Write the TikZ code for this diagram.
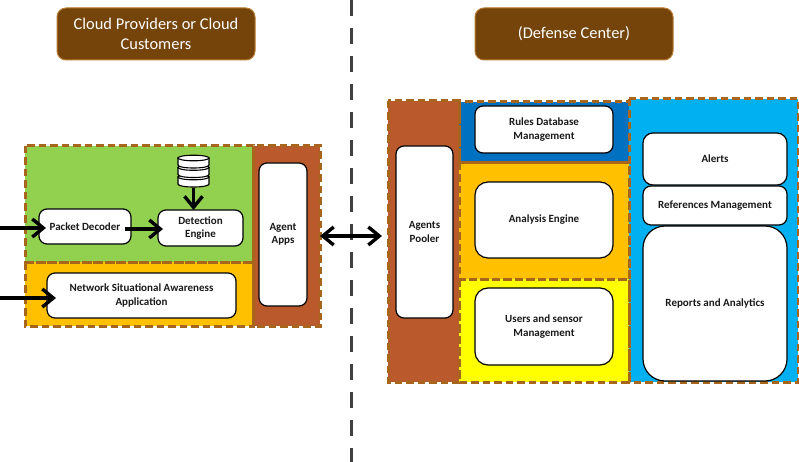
\documentclass[tikz,border=0pt]{standalone}
\usepackage{fontspec}
\setmainfont{Carlito}
\usetikzlibrary{arrows.meta}
\definecolor{dashc}{HTML}{A8661C}
\definecolor{brownr}{HTML}{BA5A2C}
\definecolor{greenr}{HTML}{92D050}
\definecolor{oranger}{HTML}{FFC000}
\definecolor{yellowr}{HTML}{FFFF00}
\definecolor{darkb}{HTML}{0070C0}
\definecolor{lightb}{HTML}{00B0F0}
\definecolor{headc}{HTML}{74440A}
\definecolor{headb}{HTML}{B87A30}
\definecolor{divc}{HTML}{404040}
\tikzset{
  region/.style={inner sep=0pt,outer sep=0pt},
  edge line/.style={draw=dashc,line width=3pt,dash pattern=on 7.5pt off 4pt},
  card/.style={draw=black,line width=1.2pt,fill=white,rounded corners=#1,inner sep=0pt,outer sep=0pt,align=center,font=\fontsize{11}{13.4}\selectfont\bfseries,text=black!90,execute at begin node={\vspace*{2pt}}},
  card/.default=8pt,
  head/.style={draw=headb,line width=1pt,fill=headc,rounded corners=9pt,inner sep=0pt,align=center,text=white,font=\fontsize{16.4}{20}\selectfont,execute at begin node={\vspace*{2pt}}},
  flow/.style={line width=3.4pt,-{Straight Barb[length=11pt,width=18pt,line width=3.4pt]}},
  flowboth/.style={line width=3.4pt,{Straight Barb[length=11pt,width=18pt,line width=3.4pt]}-{Straight Barb[length=11pt,width=18pt,line width=3.4pt]}},
  divider/.style={draw=divc,line width=3pt,dash pattern=on 16pt off 12pt},
  disk/.style={draw=black,line width=1.1pt,fill=white}
}
\newcommand{\bx}[7]{\node[#6,minimum width={(#4-#2)*1pt},minimum height={(#5-#3)*1pt}] (#1) at ({(#2+#4)/2},{(#3+#5)/2}) {#7};}
\newcommand{\outl}[1]{\draw[edge line] (#1.north west) rectangle (#1.south east);}
\newcommand{\diskat}[1]{%
  \path[disk] (178,#1) -- (178,#1+7) .. controls (178,#1+11) and (209,#1+11) .. (209,#1+7) -- (209,#1) -- cycle;
  \path[disk] (193.5,#1) ellipse [x radius=15.5,y radius=2.8];}
\begin{document}
\begin{tikzpicture}[x=1pt,y=-1pt]
\useasboundingbox (0,0) rectangle (799,462);
\fill[white] (0,0) rectangle (799,462);
\coordinate (divtop) at (351,0);
\coordinate (divbot) at (351,462);
\draw[divider] (divtop) -- (divbot);
\bx{headL}{57}{8}{255}{60}{head}{Cloud Providers or Cloud\\Customers}
\bx{headR}{475}{8}{673}{60}{head}{(Defense Center)}
% left regions
\bx{rgreen}{25}{146}{253}{262}{region,fill=greenr}{}
\bx{rorange}{25}{262}{253}{326}{region,fill=oranger}{}
\bx{rbrown}{253}{146}{320}{326}{region,fill=brownr}{}
\outl{rgreen}\outl{rorange}\outl{rbrown}
\bx{packet}{39}{209}{131}{244}{card}{Packet Decoder}
\bx{detect}{158}{210}{243}{246}{card}{Detection\\Engine}
\bx{nsa}{47}{273}{236}{318}{card}{Network Situational Awareness\\Application}
\bx{apps}{259}{163}{307}{306}{card}{Agent\\Apps}
% database
\diskat{177}
\diskat{167.5}
\diskat{158}
\coordinate (dbbot) at (193.5,188);
% right regions
\bx{rpool}{388}{101}{459}{382}{region,fill=brownr}{}
\bx{rlight}{629}{99}{798}{382}{region,fill=lightb}{}
\bx{rdark}{459}{102}{629}{163}{region,fill=darkb}{}
\bx{rana}{459}{163}{629}{279}{region,fill=oranger}{}
\bx{ryel}{459}{279}{629}{382}{region,fill=yellowr}{}
\outl{rpool}\outl{rlight}\outl{rdark}\outl{rana}\outl{ryel}
\bx{pooler}{396}{146}{453}{318}{card}{Agents\\Pooler}
\bx{rules}{475}{106}{613}{153}{card}{Rules Database\\Management}
\bx{analysis}{475}{182}{613}{258}{card=13pt}{Analysis Engine}
\bx{users}{475}{288}{613}{365}{card=13pt}{Users and sensor\\Management}
\bx{alerts}{643}{133}{787}{185}{card=10pt}{Alerts}
\bx{refs}{643}{186}{787}{225}{card}{References Management}
\bx{reports}{643}{226}{787}{381}{card=22pt}{Reports and Analytics}
% connectors
\coordinate (inA) at (0,228);
\coordinate (inAe) at (46,228);
\coordinate (inB) at (0,298);
\coordinate (inBe) at (56,298);
\coordinate (pk) at (125,229);
\coordinate (dt) at (163,229);
\draw[flow] (inA) -- (inAe);
\draw[flow] (inB) -- (inBe);
\draw[flow] (pk) -- (dt);
\draw[flow] (dbbot) -- (dbbot |- detect.north);
\coordinate (podin) at (382,236);
\draw[flowboth] (rbrown.east) -- (podin);
\end{tikzpicture}
\end{document}
